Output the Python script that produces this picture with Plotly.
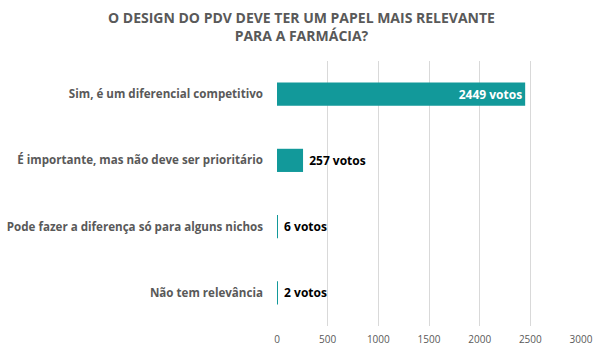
import plotly.graph_objects as go

categories = [
    "Sim, é um diferencial competitivo",
    "É importante, mas não deve ser prioritário",
    "Pode fazer a diferença só para alguns nichos",
    "Não tem relevância",
]
votes = [2449, 257, 6, 2]
positions = ["inside", "outside", "outside", "outside"]
labels = [(" " if p == "outside" else "") + f"{v} votos" for v, p in zip(votes, positions)]
tick_vals = [0, 500, 1000, 1500, 2000, 2500, 3000]
title_text = "O DESIGN DO PDV DEVE TER UM PAPEL MAIS RELEVANTE<br>PARA A FARMÁCIA?"

fig = go.Figure(go.Bar(
    x=votes,
    y=categories,
    orientation="h",
    marker=dict(color="#12999A", line=dict(width=0)),
    width=0.35,
    text=labels,
    textposition=positions,
    insidetextanchor="end",
    textfont=dict(family="Open Sans", size=12, color=["#FFFFFF", "#000000", "#000000", "#000000"], weight="bold"),
    cliponaxis=False,
))

fig.update_layout(
    width=600, height=346,
    margin=dict(l=277, r=19, t=61, b=20, autoexpand=False),
    paper_bgcolor="white", plot_bgcolor="white",
    showlegend=False,
    annotations=[dict(
        text=title_text, xref="paper", yref="paper",
        x=0.079, y=1.13, xanchor="center", yanchor="middle",
        showarrow=False, align="center",
        font=dict(family="Open Sans", size=14, color="#595959", weight="bold"),
    )],
)
fig.update_xaxes(
    range=[0, 3000], tickvals=tick_vals, showgrid=True, gridcolor="#D9D9D9", gridwidth=1,
    zeroline=False, showline=False, ticklabelstandoff=6, automargin=False,
    tickfont=dict(family="Open Sans", size=10, color="#595959"),
)
fig.update_yaxes(
    categoryorder="array", categoryarray=categories[::-1],
    showgrid=False, zeroline=False, showline=False, ticks="", ticklen=0,
    automargin=False, ticklabelstandoff=13,
    tickfont=dict(family="Open Sans", size=11.6, color="#595959", weight="bold"),
)

fig.write_html("out.html")
